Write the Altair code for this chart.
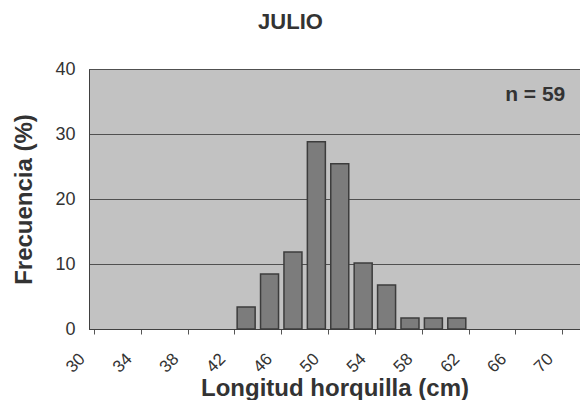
import altair as alt
import pandas as pd

# Data
inicio = [42, 44, 46, 48, 50, 52, 54, 56, 58, 60]          # bin start (cm)
frecuencia = [3.39, 8.47, 11.86, 28.81, 25.42, 10.17, 6.78, 1.69, 1.69, 1.69]  # %
x_ticks = list(range(30, 72, 2))
y_ticks = [0, 10, 20, 30, 40]
titulo = "JULIO"
nota = "n = 59"

df = pd.DataFrame({
    "centro": [v + 1 for v in inicio],
    "frecuencia": frecuencia,
})
df_note = pd.DataFrame({"x": [67.7], "y": [36], "t": [nota]})

FONT = "Liberation Sans"
TXT = "#333333"

xscale = alt.Scale(domain=[30, 71.1], nice=False, zero=False)
yscale = alt.Scale(domain=[0, 40], nice=False)

bars = alt.Chart(df).mark_bar(
    size=18, fill="#7c7c7c", stroke="#3c3c3c", strokeWidth=1.5
).encode(
    x=alt.X("centro:Q", scale=xscale,
            axis=alt.Axis(
                title="Longitud horquilla (cm)",
                values=x_ticks,
                labelExpr="datum.value % 4 == 2 ? datum.label : ''",
                labelAngle=-45, labelAlign="right", labelBaseline="middle",
                labelOffset=-12, labelPadding=22, labelOverlap=False,
                labelFlush=False, labelBound=False, labelFontSize=17,
                tickSize=5, tickColor="#555555", grid=False,
                domainColor="#404040",
                titleY=66, titleBaseline="alphabetic",
            )),
    y=alt.Y("frecuencia:Q", scale=yscale,
            axis=alt.Axis(
                title="Frecuencia (%)",
                values=y_ticks, ticks=False, labelPadding=14,
                grid=True, gridColor="#505050", gridWidth=1,
                domainColor="#404040",
                titleX=-53, titleBaseline="bottom",
            )),
)

note = alt.Chart(df_note).mark_text(
    font=FONT, fontSize=21, fontWeight="bold", color=TXT,
    align="center", baseline="middle"
).encode(
    x=alt.X("x:Q", scale=xscale),
    y=alt.Y("y:Q", scale=yscale),
    text="t:N",
)

chart = (bars + note).properties(
    width=491, height=260,
    autosize=alt.AutoSizeParams(type="none"),
    padding={"left": 81, "top": 61, "right": 0, "bottom": 71},
    title=alt.TitleParams(titulo, font=FONT, fontSize=22, fontWeight="bold",
                          color=TXT, dx=-44, offset=26, anchor="middle"),
).configure_view(
    fill="#c2c2c2", stroke="#454545", strokeWidth=1
).configure_axis(
    labelFont=FONT, labelFontSize=18, labelColor=TXT,
    titleFont=FONT, titleFontSize=24, titleFontWeight="bold", titleColor=TXT,
)

chart.save("out.html", embed_options={"renderer": "svg", "actions": False})
